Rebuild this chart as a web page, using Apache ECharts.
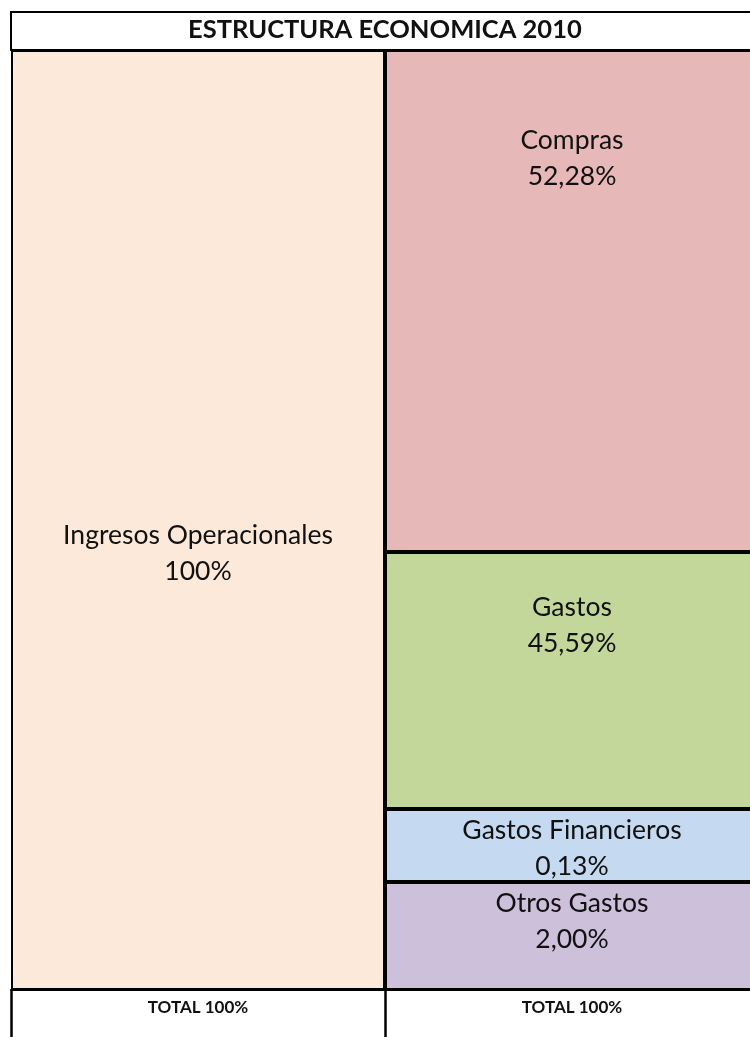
<!DOCTYPE html>
<html>
<head>
<meta charset="utf-8">
<title>Estructura economica 2010</title>
<script src="https://cdn.jsdelivr.net/npm/echarts@6/dist/echarts.min.js"></script>
<style>
    html, body { margin: 0; padding: 0; background: #fff; }
    #chart { width: 750px; height: 1037px; }
</style>
</head>
<body>
<div id="chart"></div>
<script>
// columnas de la tabla
var columns = ['Ingresos', 'Egresos']
var totals = ['TOTAL 100%', 'TOTAL 100%']

var items = ['Ingresos Operacionales', 'Compras', 'Gastos', 'Gastos Financieros', 'Otros Gastos']
var itemColumn = [0, 1, 1, 1, 1]
var percents = [100, 52.28, 45.59, 0.13, 2.00]
var boxShare = [100, 53.4, 27.34, 7.77, 11.49]

var colors = ['#fde9d9', '#e6b8b7', '#c4d79b', '#c5d9f1', '#ccc0da']

function pctText(v) {
    if (v === 100) return '100%'
    return v.toFixed(2).replace('.', ',') + '%'
}

// donde va el texto dentro de cada caja
var labelPos = [
    { position: 'inside', offset: [0, 33] },
    { position: 'insideTop', distance: 72 },
    { position: 'insideTop', distance: 37 },
    { position: 'insideTop', distance: 3 },
    { position: 'insideTop', distance: 3 }
]

var series = items.map(function (name, i) {
    var data = columns.map(function (c, j) {
        return j === itemColumn[i] ? boxShare[i] : '-'
    })
    return {
        name: name,
        type: 'bar',
        stack: 'total',
        barWidth: '100%',
        data: data,
        itemStyle: {
            color: colors[i],
            borderColor: '#000',
            borderWidth: 2
        },
        label: Object.assign({
            show: true,
            color: '#111',
            fontFamily: 'Lato',
            fontSize: 26.5,
            lineHeight: 36,
            formatter: function () {
                return name + '\n' + pctText(percents[i])
            }
        }, labelPos[i])
    }
})

var option = {
    animation: false,
    backgroundColor: '#fff',
    title: {
        text: 'ESTRUCTURA ECONOMICA 2010',
        left: 188,
        top: 17,
        padding: 0,
        textStyle: {
            fontFamily: 'Lato',
            fontWeight: 'bold',
            fontSize: 25.5,
            color: '#111'
        }
    },
    graphic: [{
        type: 'rect',
        shape: { x: 11, y: 12, width: 760, height: 38 },
        style: { fill: 'none', stroke: '#000', lineWidth: 2 }
    }],
    grid: {
        left: 11,
        top: 50,
        bottom: 47,
        width: 748,
        outerBoundsMode: 'none'
    },
    xAxis: {
        type: 'category',
        position: 'bottom',
        data: columns,
        axisLine: { show: true, onZero: false, lineStyle: { color: '#000', width: 2 } },
        axisTick: {
            show: true,
            interval: 0,
            length: 47,
            lineStyle: { color: '#000', width: 2.5 }
        },
        axisLabel: {
            margin: 9,
            fontFamily: 'Lato',
            fontWeight: 'bold',
            fontSize: 17,
            color: '#111',
            formatter: function (v, idx) {
                return totals[idx]
            }
        }
    },
    yAxis: {
        type: 'value',
        inverse: true,
        min: 0,
        max: 100,
        show: false
    },
    series: series
}

var chart = echarts.init(document.getElementById('chart'))
chart.setOption(option)
</script>
</body>
</html>
